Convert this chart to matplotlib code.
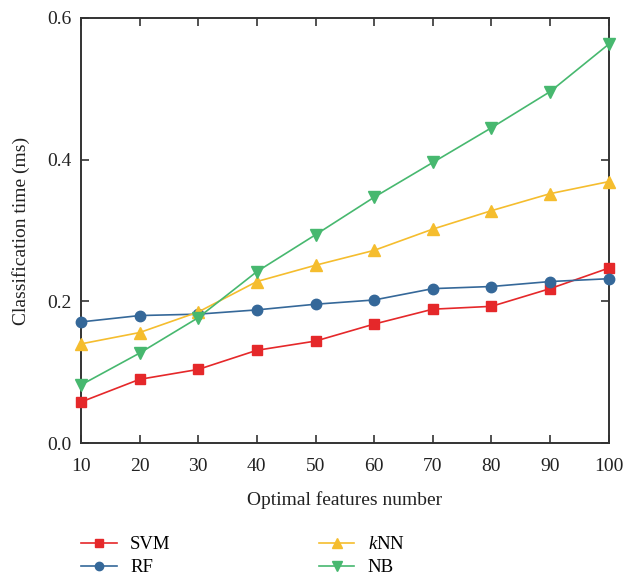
import matplotlib
matplotlib.use("Agg")
import matplotlib.pyplot as plt

plt.rcParams["font.family"] = ["Liberation Serif", "DejaVu Serif"]
plt.rcParams["mathtext.fontset"] = "custom"
plt.rcParams["mathtext.rm"] = "Liberation Serif"
plt.rcParams["mathtext.it"] = "Liberation Serif:italic"

features = [10, 20, 30, 40, 50, 60, 70, 80, 90, 100]
svm = [0.058, 0.090, 0.104, 0.131, 0.144, 0.168, 0.189, 0.193, 0.218, 0.247]
rf = [0.171, 0.180, 0.182, 0.188, 0.196, 0.202, 0.218, 0.221, 0.228, 0.232]
knn = [0.140, 0.156, 0.185, 0.228, 0.251, 0.272, 0.302, 0.328, 0.352, 0.369]
nb = [0.082, 0.127, 0.177, 0.242, 0.294, 0.347, 0.396, 0.445, 0.496, 0.563]

series = [
    ("SVM", svm, "#E5282A", "s", 6.5),
    ("RF", rf, "#356899", "o", 7.5),
    ("$k$NN", knn, "#F5BD2E", "^", 8.5),
    ("NB", nb, "#47B86F", "v", 8.5),
]

fig = plt.figure(figsize=(6.27, 5.77), dpi=100)
ax = fig.add_axes([0.129, 0.232, 0.842, 0.737])

handles = []
for label, vals, color, marker, ms in series:
    h, = ax.plot(features, vals, color=color, marker=marker, markersize=ms,
                 linewidth=1.2, label=label, clip_on=False, zorder=3)
    handles.append(h)

ax.set_xlim(10, 100)
ax.set_ylim(0, 0.6)
ax.set_xticks(features)
ax.set_yticks([0.0, 0.2, 0.4, 0.6])
ax.set_yticklabels(["0.0", "0.2", "0.4", "0.6"])

for s in ax.spines.values():
    s.set_color("#333333")
    s.set_linewidth(1.4)

ax.tick_params(direction="in", length=6, width=1.2, color="#333333",
               top=True, right=True, labelsize=14, labelcolor="#222222")
ax.tick_params(axis="x", pad=11)
ax.tick_params(axis="y", pad=7)

ax.set_xlabel("Optimal features number", fontsize=14, color="#222222", labelpad=11)
ax.set_ylabel("Classification time (ms)", fontsize=14, color="#222222", labelpad=12)

fig.legend(handles=handles, labels=[h.get_label() for h in handles],
           ncol=2, loc="upper left", bbox_to_anchor=(0.124, 0.077),
           frameon=False, fontsize=13.5, handlelength=1.9, columnspacing=7.9,
           labelspacing=0.3, handletextpad=0.7, markerscale=0.8,
           borderaxespad=0.0, borderpad=0.2)

fig.savefig("out.png", dpi=100)
